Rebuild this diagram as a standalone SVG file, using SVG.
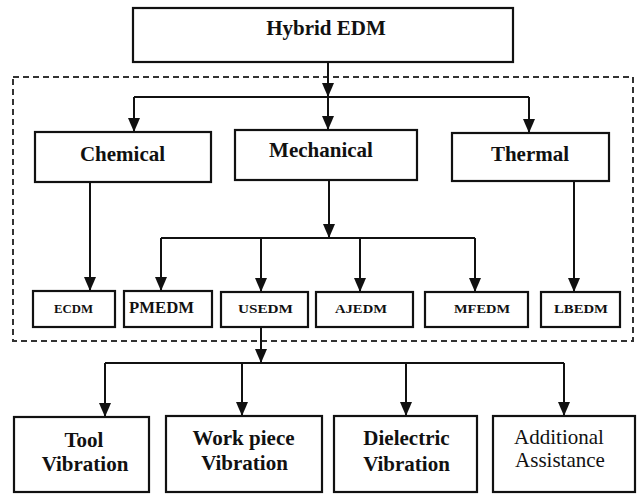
<svg xmlns="http://www.w3.org/2000/svg" width="637" height="495" viewBox="0 0 637 495">
<style>
.box{fill:#fff;stroke:#111;stroke-width:2.2}
.t{font-weight:bold;fill:#111;text-anchor:middle}
.big{font-size:21px}
.sm{font-size:13.5px}
.c{fill:none;stroke:#111;stroke-width:2}
.a{marker-end:url(#ah)}
</style>
<defs>
<marker id="ah" viewBox="0 0 14 12" markerWidth="14" markerHeight="12" refX="14" refY="6" orient="auto" markerUnits="userSpaceOnUse">
<path d="M0,0 L14,6 L0,12 z" fill="#111"/>
</marker>
</defs>
<rect x="0" y="0" width="637" height="495" fill="#fff"/>
<rect id="dashed-group" x="13" y="77" width="620" height="264" fill="none" stroke="#333" stroke-width="2" stroke-dasharray="6,4"/>
<g id="connectors">
<line class="c a" x1="328" y1="62" x2="328" y2="97"/>
<polyline class="c" points="134,97 529,97"/>
<line class="c a" x1="134" y1="97" x2="134" y2="132"/>
<line class="c a" x1="328" y1="97" x2="328" y2="130"/>
<line class="c a" x1="529" y1="97" x2="529" y2="133"/>
<line class="c a" x1="90" y1="182" x2="90" y2="291"/>
<line class="c a" x1="329" y1="180" x2="329" y2="238"/>
<polyline class="c" points="161,238 475,238"/>
<line class="c a" x1="161" y1="238" x2="161" y2="291"/>
<line class="c a" x1="261" y1="238" x2="261" y2="292"/>
<line class="c a" x1="360" y1="238" x2="360" y2="292"/>
<line class="c a" x1="475" y1="238" x2="475" y2="292"/>
<line class="c a" x1="574" y1="181" x2="574" y2="292"/>
<line class="c a" x1="261" y1="327" x2="261" y2="363"/>
<polyline class="c" points="105,363 564,363"/>
<line class="c a" x1="105" y1="363" x2="105" y2="417"/>
<line class="c a" x1="242" y1="363" x2="242" y2="416"/>
<line class="c a" x1="406" y1="363" x2="406" y2="416"/>
<line class="c a" x1="564" y1="363" x2="564" y2="416"/>
</g>
<g font-family="Liberation Serif, Times New Roman, DejaVu Serif, serif">
<g id="hybrid-edm"><rect class="box" x="133" y="8" width="380" height="54"/><text class="t big" x="326" y="35">Hybrid EDM</text></g>
<g id="chemical"><rect class="box" x="35" y="132" width="176" height="50"/><text class="t big" x="122.5" y="161">Chemical</text></g>
<g id="mechanical"><rect class="box" x="235" y="130" width="182" height="50"/><text class="t big" x="321" y="157">Mechanical</text></g>
<g id="thermal"><rect class="box" x="452" y="133" width="157" height="48"/><text class="t big" x="530" y="161">Thermal</text></g>
<g id="ecdm"><rect class="box" x="33" y="291" width="82" height="36"/><text class="t sm" x="73.5" y="313" textLength="39" lengthAdjust="spacingAndGlyphs">ECDM</text></g>
<g id="pmedm"><rect class="box" x="124" y="291" width="88" height="36"/><text class="t" font-size="17" x="161.5" y="313" textLength="65" lengthAdjust="spacingAndGlyphs">PMEDM</text></g>
<g id="usedm"><rect class="box" x="221" y="292" width="87" height="35"/><text class="t sm" x="265.5" y="313" textLength="55" lengthAdjust="spacingAndGlyphs">USEDM</text></g>
<g id="ajedm"><rect class="box" x="316" y="292" width="97" height="35"/><text class="t sm" x="361" y="313" textLength="52" lengthAdjust="spacingAndGlyphs">AJEDM</text></g>
<g id="mfedm"><rect class="box" x="425" y="292" width="103" height="35"/><text class="t sm" x="482" y="313" textLength="56" lengthAdjust="spacingAndGlyphs">MFEDM</text></g>
<g id="lbedm"><rect class="box" x="541" y="292" width="79" height="35"/><text class="t sm" x="581" y="313" textLength="54" lengthAdjust="spacingAndGlyphs">LBEDM</text></g>
<g id="tool-vibration"><rect class="box" x="14" y="417" width="135" height="75"/><text class="t big" x="84" y="447">Tool</text><text class="t big" x="85" y="471">Vibration</text></g>
<g id="work-piece-vibration"><rect class="box" x="166" y="416" width="156" height="76"/><text class="t big" x="243.5" y="445">Work piece</text><text class="t big" x="244.5" y="470">Vibration</text></g>
<g id="dielectric-vibration"><rect class="box" x="334" y="416" width="143" height="76"/><text class="t big" x="406.5" y="445">Dielectric</text><text class="t big" x="406.5" y="471">Vibration</text></g>
<g id="additional-assistance"><rect class="box" x="493" y="416" width="142" height="76"/><text class="t big" style="font-weight:normal" x="559" y="444">Additional</text><text class="t big" style="font-weight:normal" x="560" y="467">Assistance</text></g>
</g>
</svg>
